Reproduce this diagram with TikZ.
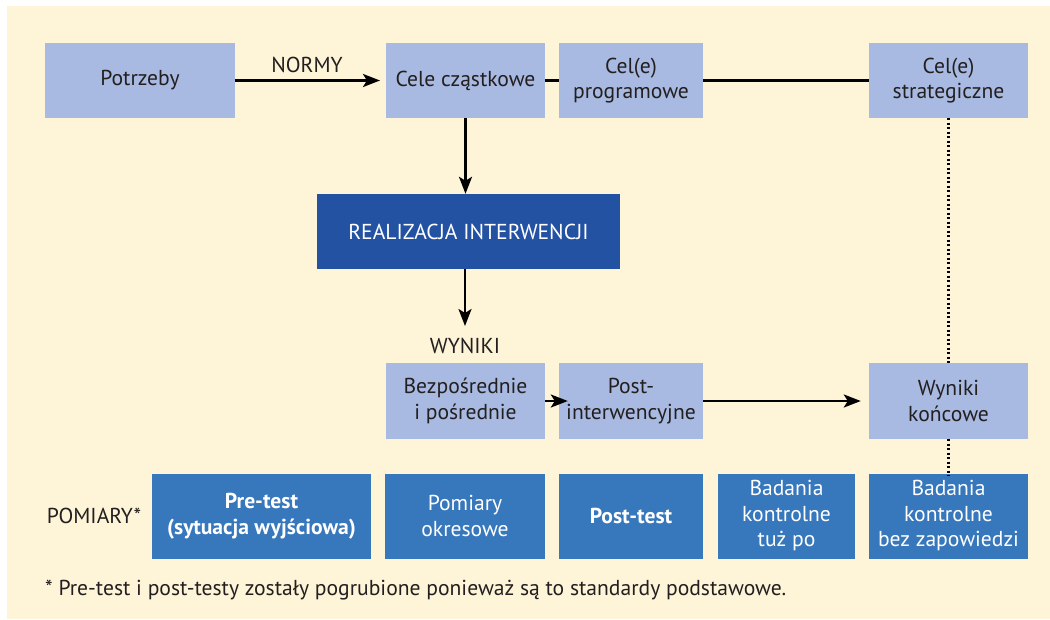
\documentclass[tikz,border=0pt]{standalone}
\usepackage{fontspec}
\setmainfont{PT Sans}
\usetikzlibrary{arrows.meta}
\definecolor{cream}{HTML}{FEF4D8}
\definecolor{lightbox}{HTML}{A8BAE1}
\definecolor{darkbox}{HTML}{2452A2}
\definecolor{midbox}{HTML}{3777BC}
\definecolor{ink}{HTML}{231F20}
\begin{document}
\begin{tikzpicture}[x=1pt,y=-1pt,
  every node/.style={font=\fontsize{21.6}{25.5}\selectfont, text=ink, inner sep=0pt},
  light/.style={fill=lightbox, minimum height=75pt, align=center},
  dark/.style={fill=darkbox, text=white, minimum height=75pt, align=center},
  meas/.style={fill=midbox, text=white, minimum height=85pt, align=center},
  conn/.style={draw=black, line width=2.5pt},
  arr/.style={conn, -{Stealth[length=17pt,width=13pt,inset=4pt]}},
  dots/.style={draw=black, line width=2.3pt, dash pattern=on 2.2pt off 2.3pt}
]
\useasboundingbox (0,0) rectangle (1050,619);
\fill[cream] (7,6) rectangle (1050,619);

% top row: needs and objectives
\node[light, minimum width=190pt] (pot) at (140,80.5) {Potrzeby};
\node[light, minimum width=159pt] (czas) at (465.5,80.5) {Cele cząstkowe};
\node[light, minimum width=144pt] (prog) at (631,80.5) {Cel(e)\\programowe};
\node[light, minimum width=159pt] (strat) at (948.5,80.5) {Cel(e)\\strategiczne};

% implementation
\node[dark, minimum width=303pt] (real) at (468.5,231.5) {REALIZACJA INTERWENCJI};

% results row
\node (wyn) at (465,346) {WYNIKI};
\node[light, minimum width=159pt, minimum height=76pt] (bez) at (465.5,401) {Bezpośrednie\\i pośrednie};
\node[light, minimum width=144pt, minimum height=76pt] (post) at (631,401) {Post-\\interwencyjne};
\node[light, minimum width=159pt, minimum height=76pt] (konc) at (948.5,401) {Wyniki\\końcowe};

% measurement row
\node (pom) at (94,516) {POMIARY*};
\node[meas, minimum width=219pt] (pre) at (261.5,516) {\textbf{Pre-test}\\\textbf{(sytuacja wyjściowa)}};
\node[meas, minimum width=160pt] (okr) at (465,516) {Pomiary\\okresowe};
\node[meas, minimum width=144pt] (ptest) at (631,516) {\textbf{Post-test}};
\node[meas, minimum width=137pt] (tuz) at (786.5,516) {Badania\\kontrolne\\tuż po};
\node[meas, minimum width=159pt] (zap) at (948.5,516) {Badania\\kontrolne\\bez zapowiedzi};

% footnote
\node[anchor=west] (note) at (45,590) {* Pre-test i post-testy zostały pogrubione ponieważ są to standardy podstawowe.};

% connectors
\coordinate (normyend) at (380,80.5);
\draw[arr] (pot.east) -- (normyend);
\node (normy) at (307,64.5) {NORMY};
\draw[conn] (czas.east) -- (prog.west);
\draw[conn] (prog.east) -- (strat.west);
\draw[arr] (czas.south) -- (czas.south |- real.north);
\coordinate (wynend) at (465,326);
\draw[arr] (real.south -| wynend) -- (wynend);
\draw[arr] (bez.east) -- ([xshift=9pt]post.west);
\draw[arr] (post.east) -- ([xshift=-8pt]konc.west);
\draw[dots] (strat.south) -- (konc.north);
\draw[dots] (konc.south) -- ([yshift=-3pt]zap.north);
\end{tikzpicture}
\end{document}
